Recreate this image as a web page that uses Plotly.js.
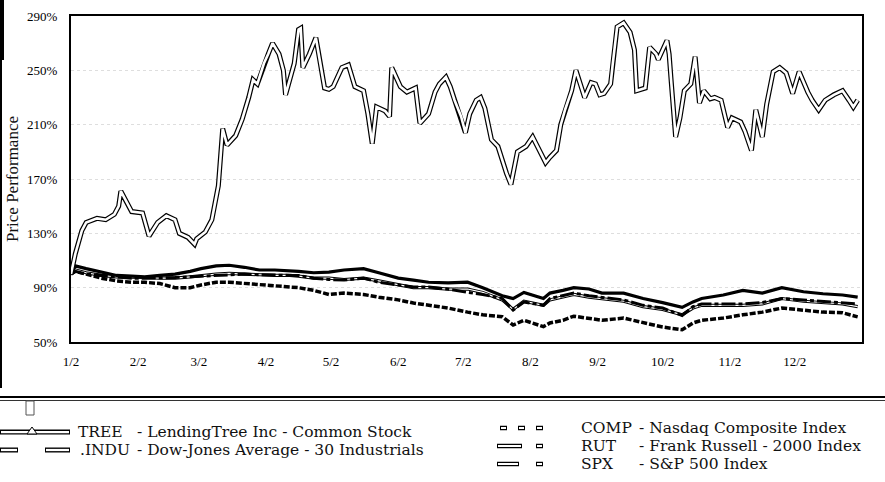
<!DOCTYPE html>
<html>
<head>
<meta charset="utf-8">
<script src="https://cdn.plot.ly/plotly-3.0.1.min.js"></script>
<style>html,body{margin:0;padding:0;background:#fff;}#chart{width:885px;height:482px;}</style>
</head>
<body>
<div id="chart"></div>
<script>
// ---- data ----
const treeDates = ['2002-01-02','2002-01-04','2002-01-07','2002-01-09','2002-01-14','2002-01-18','2002-01-22','2002-01-24','2002-01-25','2002-01-28','2002-01-30','2002-02-04','2002-02-07','2002-02-11','2002-02-15','2002-02-19','2002-02-21','2002-02-25','2002-02-28','2002-03-01','2002-03-05','2002-03-08','2002-03-11','2002-03-13','2002-03-15','2002-03-19','2002-03-22','2002-03-25','2002-03-27','2002-03-29','2002-04-01','2002-04-03','2002-04-05','2002-04-08','2002-04-10','2002-04-11','2002-04-15','2002-04-17','2002-04-18','2002-04-19','2002-04-22','2002-04-25','2002-04-26','2002-04-29','2002-05-01','2002-05-03','2002-05-07','2002-05-10','2002-05-13','2002-05-16','2002-05-17','2002-05-19','2002-05-21','2002-05-23','2002-05-27','2002-05-29','2002-05-30','2002-06-03','2002-06-06','2002-06-10','2002-06-12','2002-06-16','2002-06-19','2002-06-21','2002-06-24','2002-06-26','2002-06-28','2002-07-01','2002-07-03','2002-07-05','2002-07-08','2002-07-10','2002-07-12','2002-07-15','2002-07-18','2002-07-22','2002-07-24','2002-07-27','2002-07-31','2002-08-03','2002-08-07','2002-08-09','2002-08-11','2002-08-14','2002-08-16','2002-08-18','2002-08-21','2002-08-23','2002-08-27','2002-08-30','2002-09-01','2002-09-03','2002-09-05','2002-09-08','2002-09-09','2002-09-11','2002-09-14','2002-09-17','2002-09-19','2002-09-20','2002-09-24','2002-09-26','2002-09-29','2002-09-30','2002-10-04','2002-10-05','2002-10-06','2002-10-08','2002-10-10','2002-10-12','2002-10-15','2002-10-17','2002-10-19','2002-10-21','2002-10-24','2002-10-26','2002-10-29','2002-11-01','2002-11-03','2002-11-07','2002-11-09','2002-11-12','2002-11-14','2002-11-17','2002-11-19','2002-11-22','2002-11-25','2002-11-28','2002-12-01','2002-12-04','2002-12-08','2002-12-10','2002-12-13','2002-12-16','2002-12-20','2002-12-24','2002-12-27','2002-12-29','2002-12-31'];
const treeValues = [100,115,132,138,141,140,144,150,161,152,146,145,128,138,143,140,130,127,122,126,131,140,165,207,195,202,214,230,243,240,255,262,270,262,250,232,255,280,281,252,262,274,265,237,236,238,252,254,238,236,235,218,196,223,220,216,252,238,234,237,211,218,234,240,245,238,228,216,204,218,228,230,222,199,194,174,166,190,194,201,189,182,186,191,210,221,235,250,230,241,240,232,233,240,255,282,285,278,265,235,237,267,262,258,272,262,241,201,215,235,240,260,226,235,229,230,228,208,215,212,205,191,221,201,225,249,252,248,233,249,234,228,221,228,232,235,228,223,228];

const indexDates = ['2002-01-02','2002-01-04','2002-01-09','2002-01-16','2002-01-23','2002-01-30','2002-02-05','2002-02-12','2002-02-19','2002-02-26','2002-03-03','2002-03-10','2002-03-16','2002-03-23','2002-03-30','2002-04-06','2002-04-13','2002-04-17','2002-04-24','2002-05-01','2002-05-08','2002-05-17','2002-05-24','2002-06-02','2002-06-09','2002-06-16','2002-06-25','2002-07-04','2002-07-11','2002-07-20','2002-07-25','2002-07-30','2002-08-08','2002-08-11','2002-08-17','2002-08-22','2002-08-29','2002-09-04','2002-09-14','2002-09-23','2002-10-02','2002-10-11','2002-10-16','2002-10-20','2002-10-30','2002-11-08','2002-11-17','2002-11-26','2002-12-06','2002-12-15','2002-12-24','2002-12-31'];
const induValues = [100,106,104,101.5,99,98.5,98,99,100,102,104,106,106.5,105,103,103,102.5,102,101,101.5,103,104,101,97,95.6,94,93.5,94,90,84,82,86.5,82,86,88,90,89,86,86,82,79,75.5,79.5,82,84.6,88,86,90,87,85.5,84.6,83];
const spxValues  = [100,103,101,99,98,98,97.5,97,97,98,99,100,100.5,100,99,99,99,98.5,97,97,96,97,95,92,90,90,89,89,86.5,81,74,80,77,81,83,85,83,82,80,76,74,70,75,77,77,77,78,82,80,79,78,76];
const rutValues  = [100,102,100,99,97.5,97,97,97,97.5,98,98.5,99,99.5,100,99.5,99,99,99,97,96,95.6,97,94,92,90.5,90.5,89,86.5,85,82,73.5,79.5,77,82,84,86,84,83,81,77,75,69.5,76,78,78,78,79,82,81,80,79,78];
const compValues = [100,102,100,97,95,94,94,93,90,90,92,94,94,93,92,91,90.5,90,88,85,86,85,83,81,78.7,77,75,72,70,68.6,62.5,66,61.3,64,66,69,67.6,66,67.6,64,61,59,64,66,67.6,70,72,75,73.5,72,71.5,68.5];

const tickers = ['TREE', '.INDU', 'COMP', 'RUT', 'SPX'];
const descriptions = ['- LendingTree Inc - Common Stock', '- Dow-Jones Average - 30 Industrials', '- Nasdaq Composite Index', '- Frank Russell - 2000 Index', '- S&P 500 Index'];

const yTickVals = [50, 90, 130, 170, 210, 250, 290];
const xTickVals = ['2002-01-02','2002-02-02','2002-03-02','2002-04-02','2002-05-02','2002-06-02','2002-07-02','2002-08-02','2002-09-02','2002-10-02','2002-11-02','2002-12-02'];
const xTickText = ['1/2','2/2','3/2','4/2','5/2','6/2','7/2','8/2','9/2','10/2','11/2','12/2'];
const yTitle = 'Price Performance';

// ---- drawing ----
const FONT = 'Liberation Serif, DejaVu Serif, serif';
const LFONT = 'DejaVu Serif, Liberation Serif, serif';
const P = {l: 71, r: 862, t: 16, b: 342};
const px = x => (x - P.l) / (P.r - P.l);
const py = y => (P.b - y) / (P.b - P.t);

function line(x, y, color, width, dash) {
  return {x: x, y: y, type: 'scatter', mode: 'lines', showlegend: false, hoverinfo: 'skip',
          line: {color: color, width: width, dash: dash || 'solid', shape: 'linear'}};
}

const traces = [
  line(indexDates, compValues, '#000', 3.5, '6px,2px'),
  line(indexDates, spxValues, '#000', 3.2),
  line(indexDates, spxValues, '#fff', 1.2),
  line(indexDates, rutValues, '#000', 3, '14px,3px,4px,3px'),
  line(indexDates, induValues, '#000', 3.2),
  line(treeDates, treeValues, '#000', 5),
  line(treeDates, treeValues, '#fff', 2.6)
];

const shapes = [];
const annotations = [];
function seg(x0, x1, y, w, c) {
  shapes.push({type: 'line', xref: 'paper', yref: 'paper', x0: px(x0), x1: px(x1), y0: py(y), y1: py(y),
               line: {color: c, width: w}});
}
function dbl(x0, x1, y, w) { w = w || 5; seg(x0, x1, y, w, '#000'); seg(x0 + 1, x1 - 1, y, w * 0.45, '#fff'); }

// scan frame decorations
shapes.push({type: 'line', xref: 'paper', yref: 'paper', x0: px(1), x1: px(1), y0: py(0), y1: py(388), line: {color: '#000', width: 2}});
shapes.push({type: 'line', xref: 'paper', yref: 'paper', x0: px(2), x1: px(2), y0: py(0), y1: py(60), line: {color: '#000', width: 4}});
seg(0, 885, 397, 2.2, '#000');
seg(0, 885, 400.5, 1, '#333');
shapes.push({type: 'rect', xref: 'paper', yref: 'paper', x0: px(26), x1: px(34), y0: py(401), y1: py(415), line: {color: '#555', width: 1}});

// legend symbols
dbl(0, 70, 432);
shapes.push({type: 'path', xref: 'paper', yref: 'paper',
  path: `M ${px(27)},${py(434)} L ${px(32)},${py(427)} L ${px(37)},${py(434)} Z`,
  fillcolor: '#fff', line: {color: '#000', width: 1}});
dbl(0, 18, 450); dbl(45, 70, 450);
dbl(500, 507, 428, 4.5); dbl(518, 525, 428, 4.5); dbl(536, 543, 428, 4.5);
dbl(497, 522, 446, 4.5); dbl(536, 543, 446, 4.5);
dbl(497, 519, 464, 4.5); dbl(536, 543, 464, 4.5);

const legendRows = [
  {tx: 77, dx: 136, y: 432},
  {tx: 79, dx: 136, y: 450},
  {tx: 580, dx: 638, y: 428},
  {tx: 580, dx: 638, y: 446},
  {tx: 580, dx: 638, y: 464}
];
legendRows.forEach((r, i) => {
  annotations.push({xref: 'paper', yref: 'paper', x: px(r.tx), y: py(r.y), xanchor: 'left', yanchor: 'middle',
    text: tickers[i], showarrow: false, borderpad: 0, font: {family: LFONT, size: 15.5, color: '#111'}});
  annotations.push({xref: 'paper', yref: 'paper', x: px(r.dx), y: py(r.y), xanchor: 'left', yanchor: 'middle',
    text: descriptions[i], showarrow: false, borderpad: 0, font: {family: LFONT, size: 15.5, color: '#111'}});
});

const layout = {
  width: 885, height: 482,
  margin: {l: P.l, r: 885 - P.r, t: P.t, b: 482 - P.b, pad: 0},
  paper_bgcolor: '#fff', plot_bgcolor: '#fff',
  showlegend: false,
  font: {family: FONT, color: '#111', size: 13},
  xaxis: {
    type: 'date', range: ['2002-01-02', '2003-01-02'],
    tickvals: xTickVals, ticktext: xTickText, ticks: '', showgrid: false, zeroline: false,
    showline: true, mirror: true, linecolor: '#000', linewidth: 2,
    tickfont: {family: FONT, size: 13, color: '#000'}, ticklabelstandoff: 6
  },
  yaxis: {
    range: [50, 290], tickvals: yTickVals, ticktext: yTickVals.map(v => v + '%'),
    ticks: '', showgrid: true, gridcolor: '#dedede', griddash: 'dot', gridwidth: 1, zeroline: false,
    showline: true, mirror: true, linecolor: '#000', linewidth: 2,
    tickfont: {family: FONT, size: 13, color: '#000'}, ticklabelstandoff: 9,
    title: {text: yTitle, font: {family: FONT, size: 17, color: '#111'}, standoff: 4}
  },
  shapes: shapes,
  annotations: annotations
};

Plotly.newPlot('chart', traces, layout, {staticPlot: true, displayModeBar: false});
</script>
</body>
</html>
